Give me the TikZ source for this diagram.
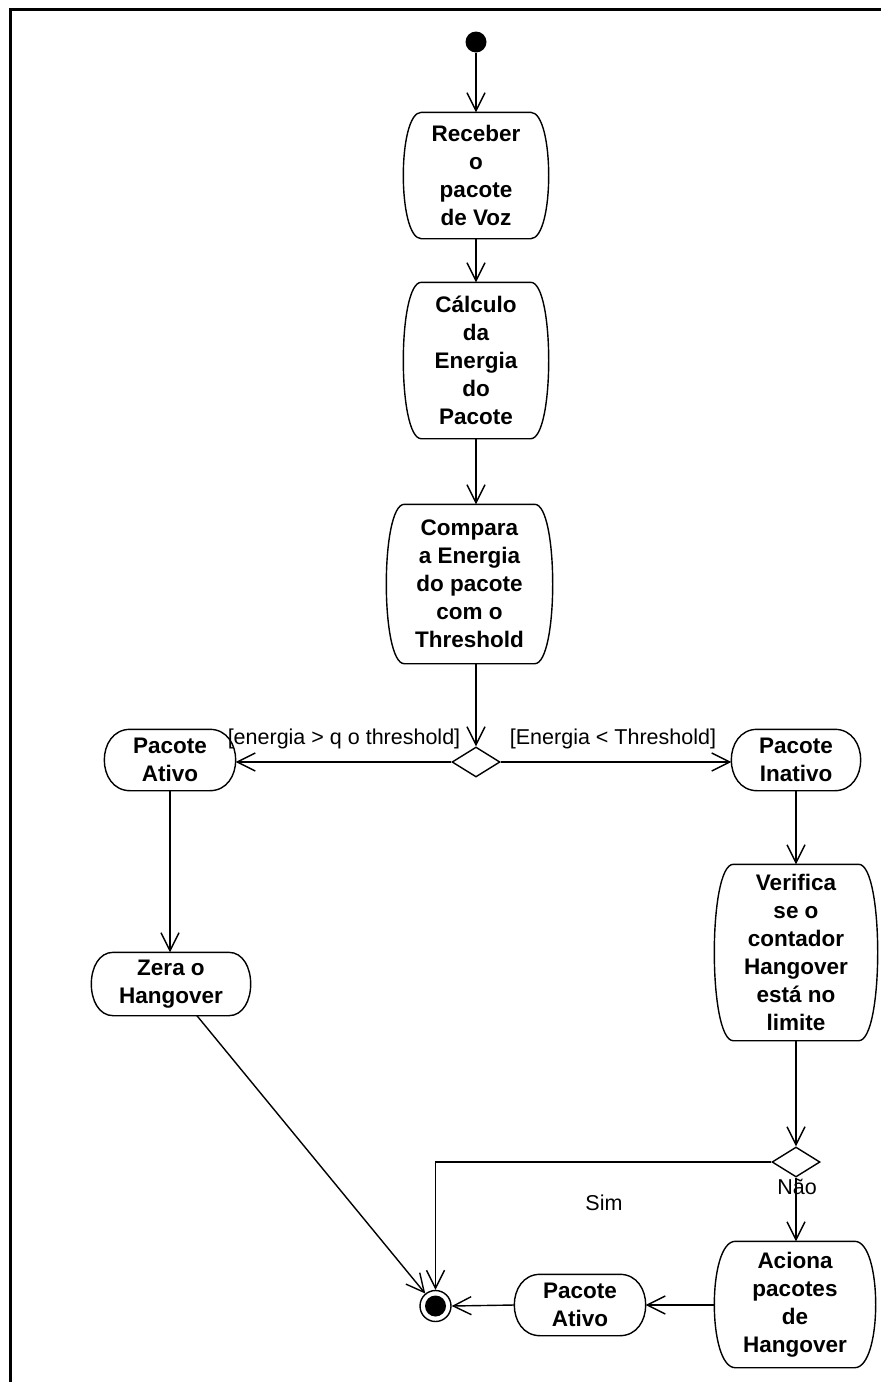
\documentclass[tikz,border=0pt]{standalone}
\usepackage{fontspec}
\setmainfont{Liberation Sans}
\usetikzlibrary{arrows.meta,shapes.geometric,calc}
\newcommand{\actoutline}[2]{%
  \draw[boxline] ($(#1.north west)+(#2,0)$) -- ($(#1.north east)+(-#2,0)$)
    .. controls ($(#1.north east)+(#2/3,0)$) and ($(#1.south east)+(#2/3,0)$) .. ($(#1.south east)+(-#2,0)$)
    -- ($(#1.south west)+(#2,0)$)
    .. controls ($(#1.south west)+(-#2/3,0)$) and ($(#1.north west)+(-#2/3,0)$) .. cycle;%
}
\begin{document}
\begin{tikzpicture}[x=1pt,y=-1pt,
  line width=1.4pt,
  boxline/.style={line width=1.4pt},
  act/.style={inner sep=0pt, align=center, font=\bfseries\fontsize{22.5}{28}\selectfont},
  lbl/.style={inner sep=0pt, font=\fontsize{21.5}{25}\selectfont},
  flow/.style={-{Straight Barb[length=18pt,width=18pt,line width=1.4pt]}},
  dec/.style={diamond, draw, inner sep=0pt, minimum width=48pt, minimum height=30pt, aspect=1.6},
]
\useasboundingbox (0,0) rectangle (881,1382);
\fill[white] (0,0) rectangle (881,1382);
\draw[line width=3pt] (10.5,1382) -- (10.5,9) -- (881,9);

% nodes
\node[circle, fill=black, inner sep=0pt, minimum size=21pt] (start) at (476,42) {};
\node[act, minimum width=144pt, minimum height=125pt] (recv) at (476,175.5) {Receber\\o\\pacote\\de Voz};
\node[act, minimum width=144pt, minimum height=155pt] (calc) at (476,360.5) {Cálculo\\da\\Energia\\do\\Pacote};
\node[act, minimum width=165pt, minimum height=158pt] (cmp) at (469.5,584) {Compara\\a Energia\\do pacote\\com o\\Threshold};
\node[dec] (d1) at (476,762) {};
\node[act, minimum width=130pt, minimum height=60pt] (pa1) at (170,760) {Pacote\\Ativo};
\node[act, minimum width=128pt, minimum height=60pt] (pin) at (796,760) {Pacote\\Inativo};
\node[act, minimum width=158pt, minimum height=62pt] (zera) at (171,984) {Zera o\\Hangover};
\node[act, minimum width=162pt, minimum height=175pt] (ver) at (796,952.5) {Verifica\\se o\\contador\\Hangover\\está no\\limite};
\node[dec] (d2) at (796,1162) {};
\node[act, minimum width=160pt, minimum height=125pt] (acn) at (795,1304.5) {Aciona\\pacotes\\de\\Hangover};
\node[act, minimum width=130pt, minimum height=60pt] (pa2) at (580,1305) {Pacote\\Ativo};
\node[circle, draw, line width=1.4pt, inner sep=0pt, minimum size=31pt] (fin) at (435.5,1306) {};
\fill (fin.center) circle (10.5pt);

% outlines
\actoutline{recv}{18}
\actoutline{calc}{18}
\actoutline{cmp}{18}
\actoutline{pa1}{26}
\actoutline{pin}{26}
\actoutline{zera}{22}
\actoutline{ver}{19}
\actoutline{acn}{21}
\actoutline{pa2}{26}

% labels
\node[lbl] (l1) at (344,739) {[energia > q o threshold]};
\node[lbl] (l2) at (613,739) {[Energia < Threshold]};
\node[lbl] (lsim) at (604,1203) {Sim};
\node[lbl] (lnao) at (797,1187) {Não};

% connectors
\draw[flow] (start) -- (recv.north);
\draw[flow] (recv.south) -- (calc.north);
\draw[flow] (calc.south) -- (calc.south |- cmp.north);
\draw[flow] (d1.north |- cmp.south) -- (d1.north);
\draw[flow] (d1.west) -- (d1.west -| pa1.east);
\draw[flow] (d1.east) -- (d1.east -| pin.west);
\draw[flow] (pa1.south) -- (pa1.south |- zera.north);
\draw[flow] (pin.south) -- (pin.south |- ver.north);
\draw[flow] (ver.south) -- (d2.north);
\draw[flow] (d2.west) -| (fin.north);
\draw[flow] (d2.south) -- (d2.south |- acn.north);
\draw[flow] (acn.west |- pa2.east) -- (pa2.east);
\draw[flow] (pa2.west) -- (fin.east);
\draw[flow] (zera) -- (fin);
\end{tikzpicture}
\end{document}
